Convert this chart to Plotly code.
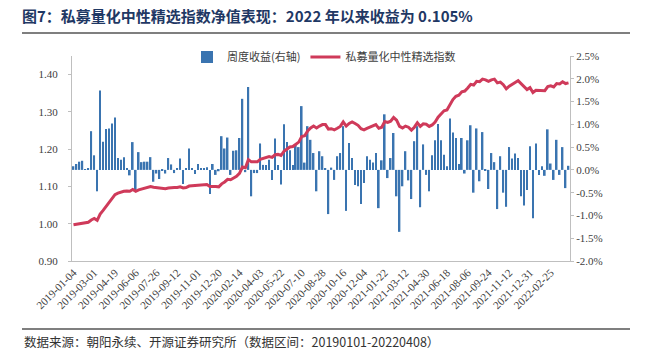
import plotly.graph_objects as go

tick_labels = [
    "2019-01-04", "2019-03-01", "2019-04-19", "2019-06-06", "2019-07-26", "2019-09-12",
    "2019-11-01", "2019-12-20", "2020-02-14", "2020-04-03", "2020-05-22", "2020-07-10",
    "2020-08-28", "2020-10-16", "2020-12-04", "2021-01-22", "2021-03-12", "2021-04-30",
    "2021-06-18", "2021-08-06", "2021-09-24", "2021-11-12", "2021-12-31", "2022-02-25",
]

# weekly return (%), right axis
weekly_return_pct = [
    0.08, 0.13, 0.18, 0.20, 0.01, 0.02, 0.85, 0.32, -0.47, 1.74,
    0.62, 0.90, 0.91, 1.02, 1.15, 0.26, 0.22, 0.28, 0.02, -0.12,
    0.61, -0.45, 0.39, 0.17, 0.18, 0.18, 0.28, -0.26, -0.08, -0.20,
    -0.02, -0.08, 0.26, 0.12, -0.07, 0.03, 0.25, -0.31, 0.02, 0.47,
    0.02, -0.09, 0.13, 0.02, 0.04, 0.06, -0.53, 0.13, -0.11, -0.03,
    0.74, 0.47, 0.71, -0.11, 0.42, 0.43, 0.70, 1.56, -0.05, 1.82,
    -0.58, -0.07, -0.07, 0.58, 0.11, 0.11, 0.22, -0.22, 0.69, 0.11,
    -0.32, 1.00, 0.61, 0.43, 0.11, 0.55, 0.50, 1.40, 0.16, 0.96,
    0.66, 0.37, -0.47, 0.41, 0.30, 0.02, -0.97, 0.05, -0.22, 0.30,
    0.37, 0.96, -0.90, 0.59, 0.26, -0.33, -0.36, -0.75, -0.29, 0.30,
    0.22, 0.16, 0.37, -0.84, 0.21, 1.22, -0.18, 0.26, 0.81, -0.58,
    -1.36, -0.36, 0.41, -0.23, -0.64, 0.63, 0.96, -0.82, 0.56, -0.11,
    -0.47, 0.32, 0.65, 1.01, 0.65, 0.33, 0.08, 1.13, 0.82, 0.70,
    0.13, 0.70, -0.08, 0.65, 0.98, -0.50, 0.91, -0.25, 0.83, -0.01,
    -0.42, 0.37, 0.17, -0.86, 0.30, -0.50, -0.81, 0.50, 0.25, 0.36,
    0.26, -0.58, -0.78, -0.44, 0.52, -1.06, 0.58, -0.11, 0.08, -0.13,
    0.89, 0.14, -0.22, 0.66, -0.11, 0.50, -0.40, 0.09,
]

# index net value, left axis
index_nav = [
    0.997, 0.998, 1.000, 1.002, 1.003, 1.004, 1.010, 1.014, 1.009, 1.026,
    1.036, 1.046, 1.056, 1.067, 1.078, 1.082, 1.085, 1.087, 1.088, 1.087,
    1.092, 1.087, 1.091, 1.093, 1.095, 1.097, 1.100, 1.098, 1.097, 1.095,
    1.095, 1.094, 1.096, 1.097, 1.097, 1.097, 1.099, 1.096, 1.097, 1.101,
    1.102, 1.101, 1.103, 1.103, 1.104, 1.105, 1.100, 1.101, 1.100, 1.099,
    1.107, 1.112, 1.119, 1.118, 1.123, 1.127, 1.135, 1.152, 1.150, 1.172,
    1.166, 1.166, 1.166, 1.173, 1.175, 1.177, 1.180, 1.178, 1.185, 1.186,
    1.183, 1.194, 1.201, 1.206, 1.207, 1.213, 1.219, 1.234, 1.236, 1.249,
    1.257, 1.262, 1.257, 1.262, 1.266, 1.266, 1.254, 1.255, 1.252, 1.256,
    1.261, 1.273, 1.262, 1.269, 1.273, 1.269, 1.264, 1.255, 1.252, 1.256,
    1.259, 1.261, 1.266, 1.256, 1.259, 1.274, 1.272, 1.275, 1.285, 1.278,
    1.261, 1.257, 1.262, 1.259, 1.251, 1.259, 1.271, 1.261, 1.268, 1.267,
    1.261, 1.265, 1.273, 1.286, 1.294, 1.303, 1.305, 1.318, 1.333, 1.342,
    1.345, 1.354, 1.356, 1.364, 1.374, 1.372, 1.382, 1.381, 1.388, 1.386,
    1.382, 1.386, 1.388, 1.378, 1.380, 1.373, 1.362, 1.369, 1.373, 1.379,
    1.384, 1.376, 1.366, 1.360, 1.365, 1.352, 1.358, 1.357, 1.358, 1.357,
    1.368, 1.370, 1.367, 1.376, 1.375, 1.381, 1.376, 1.378,
]

left_ticks = [0.90, 1.00, 1.10, 1.20, 1.30, 1.40]
right_ticks = [-2.0, -1.5, -1.0, -0.5, 0.0, 0.5, 1.0, 1.5, 2.0, 2.5]
right_tick_text = [f"{v:.1f}%" for v in right_ticks]

x = list(range(len(index_nav)))
tick_positions = x[::7][:len(tick_labels)]

W, H = 646, 354
L, R, T, B = 72, 76, 56, 93
PW, PH = W - L - R, H - T - B


def xp(px):
    return (px - L) / PW


def yp(py):
    return (H - B - py) / PH


BAR_COLOR = "#3A74B0"
LINE_COLOR = "#CF3A5A"
AXIS_COLOR = "#BFBFBF"
TEXT_COLOR = "#404040"
SERIF = "Liberation Serif"
CJK = "Noto Sans CJK SC"

fig = go.Figure()
fig.add_trace(go.Bar(
    x=x, y=weekly_return_pct, name="周度收益(右轴)", yaxis="y",
    marker=dict(color=BAR_COLOR, line=dict(width=0)), width=0.55,
))
fig.add_trace(go.Scatter(
    x=x, y=index_nav, name="私募量化中性精选指数", yaxis="y2", mode="lines",
    line=dict(color=LINE_COLOR, width=3),
))

fig.update_layout(
    width=W, height=H,
    margin=dict(l=L, r=R, t=T, b=B),
    paper_bgcolor="white", plot_bgcolor="white",
    title=dict(
        text="<b>图7：私募量化中性精选指数净值表现：2022 年以来收益为 0.105%</b>",
        x=22 / W, xanchor="left", xref="container",
        y=1 - 17 / H, yanchor="middle", yref="container",
        font=dict(family=CJK, size=15, color="#1F3864"),
    ),
    showlegend=True,
    legend=dict(
        orientation="h", x=xp(324), xanchor="center", y=yp(57), yanchor="middle",
        font=dict(family=CJK, size=11, color=TEXT_COLOR),
        bgcolor="rgba(0,0,0,0)", itemwidth=30,
    ),
    xaxis=dict(
        range=[-0.5, len(x) - 0.5], tickmode="array",
        tickvals=tick_positions, ticktext=tick_labels, tickangle=-45,
        showline=True, linecolor=AXIS_COLOR, linewidth=1,
        showgrid=False, zeroline=False, ticks="",
        tickfont=dict(family=SERIF, size=11, color=TEXT_COLOR),
    ),
    yaxis=dict(
        side="right", range=[-2.0, 2.5], tickmode="array",
        tickvals=right_ticks, ticktext=right_tick_text,
        showline=True, linecolor=AXIS_COLOR, linewidth=1,
        ticks="outside", ticklen=3, tickcolor=AXIS_COLOR,
        showgrid=False, zeroline=False,
        tickfont=dict(family=SERIF, size=11, color=TEXT_COLOR),
    ),
    yaxis2=dict(
        overlaying="y", side="left", range=[0.90, 1.45], tickmode="array",
        tickvals=left_ticks, tickformat=".2f",
        showline=True, linecolor=AXIS_COLOR, linewidth=1,
        ticks="outside", ticklen=3, tickcolor=AXIS_COLOR, ticklabelstandoff=8,
        showgrid=False, zeroline=False,
        tickfont=dict(family=SERIF, size=11, color=TEXT_COLOR),
    ),
    shapes=[
        dict(type="line", xref="paper", yref="paper", x0=xp(22), x1=xp(630),
             y0=yp(33), y1=yp(33), line=dict(color="#7F7F7F", width=2)),
        dict(type="line", xref="paper", yref="paper", x0=xp(22), x1=xp(630),
             y0=yp(329), y1=yp(329), line=dict(color="#7F7F7F", width=2)),
    ],
    annotations=[
        dict(text="数据来源：朝阳永续、开源证券研究所（数据区间：20190101-20220408）",
             xref="paper", yref="paper", x=xp(22), y=yp(341),
             xanchor="left", yanchor="middle", showarrow=False,
             font=dict(family=CJK, size=12.5, color="#333333")),
    ],
)

fig.write_html("out.html")
